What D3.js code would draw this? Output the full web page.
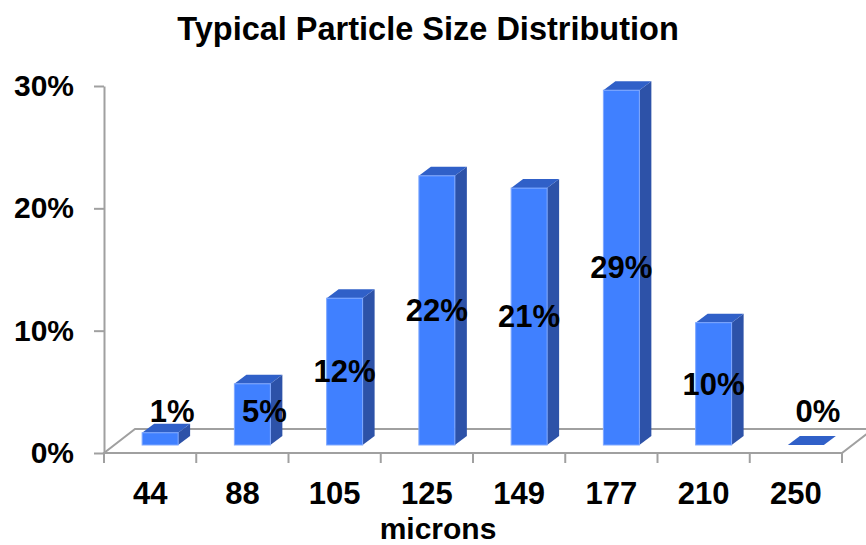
<!DOCTYPE html>
<html>
  <head>
    <style>
      body { margin: 0; background: #fff; }
      svg { display: block; font-family: "Liberation Sans", Arial, sans-serif; }
      .axis path, .axis line { stroke: #a0a0a0; stroke-width: 2; }
      .axis text { font-weight: bold; fill: #000; }
    </style>
    <script src="https://cdn.jsdelivr.net/npm/d3@7"></script>
  </head>
  <body>
    <div id="chart"></div>
    <script>
      // chart data
      var categories = ["44", "88", "105", "125", "149", "177", "210", "250"];
      var values = [1, 5, 12, 22, 21, 29, 10, 0]; // percent
      var yTicks = [0, 10, 20, 30];

      var width = 866, height = 545;

      // fake 3d depth (px)
      var floorDx = 31, floorDy = -24;   // whole floor depth
      var offX = 10, offY = -8;          // bar front face behind front edge
      var barDx = 12, barDy = -9;        // bar thickness

      var svg = d3.select("#chart").append("svg")
        .attr("width", width)
        .attr("height", height);

      var x = d3.scaleBand().domain(categories).range([104, 842]).padding(0);
      var y = d3.scaleLinear().domain([0, 30]).range([453, 86]);
      var bw = x.bandwidth() * 0.39;

      // title
      svg.append("text")
        .attr("x", 428).attr("y", 40)
        .attr("text-anchor", "middle")
        .style("font-size", "32.5px").style("font-weight", "bold")
        .text("Typical Particle Size Distribution");

      // floor
      var x0 = x.range()[0], x1 = x.range()[1], y0 = y(0);
      svg.append("path")
        .attr("d", "M" + x0 + "," + y0 + "L" + x1 + "," + y0 +
          "L" + (x1 + floorDx) + "," + (y0 + floorDy) +
          "L" + (x0 + floorDx) + "," + (y0 + floorDy) + "Z")
        .attr("fill", "none")
        .attr("stroke", "#a0a0a0")
        .attr("stroke-width", 2);

      // y axis
      var yAxis = svg.append("g").attr("class", "axis")
        .attr("transform", "translate(" + x0 + ",0)")
        .call(d3.axisLeft(y).tickValues(yTicks).tickFormat(function(d) { return d + "%"; })
          .tickSize(10).tickSizeOuter(0).tickPadding(20));
      yAxis.selectAll("text").style("font-size", "30px");

      // x axis: labels in the middle of each band, ticks on band edges
      var xAxis = svg.append("g").attr("class", "axis")
        .attr("transform", "translate(0," + y0 + ")")
        .call(d3.axisBottom(x).tickSize(0).tickPadding(29));
      xAxis.select(".domain").remove();
      xAxis.selectAll("text").style("font-size", "31px");
      xAxis.selectAll(".edge")
        .data(categories.concat(["end"]))
        .enter().append("line")
        .attr("class", "edge")
        .attr("x1", function(d, i) { return x0 + i * x.step(); })
        .attr("x2", function(d, i) { return x0 + i * x.step(); })
        .attr("y1", 0).attr("y2", 10);
      xAxis.append("line").attr("x1", x0).attr("x2", x1).attr("y1", 0).attr("y2", 0);

      svg.append("text")
        .attr("x", 438).attr("y", 539)
        .attr("text-anchor", "middle")
        .style("font-size", "30px").style("font-weight", "bold")
        .text("microns");

      // bars
      var bars = svg.selectAll(".bar")
        .data(values.map(function(v, i) { return { cat: categories[i], v: v }; }))
        .enter().append("g").attr("class", "bar");

      function bx(d) { return x(d.cat) + (x.bandwidth() - bw) / 2 + offX; }
      function barTop(d) { return y(d.v) + offY; }
      var base = y(0) + offY;

      bars.append("path") // side
        .attr("fill", "#2d52a8")
        .attr("d", function(d) {
          var r = bx(d) + bw, t = barTop(d);
          return "M" + r + "," + base + "L" + r + "," + t + "L" + (r + barDx) + "," + (t + barDy) +
            "L" + (r + barDx) + "," + (base + barDy) + "Z";
        });
      bars.append("path") // top
        .attr("fill", "#3060c8")
        .attr("d", function(d) {
          var l = bx(d), r = l + bw, t = barTop(d);
          return "M" + l + "," + t + "L" + r + "," + t + "L" + (r + barDx) + "," + (t + barDy) +
            "L" + (l + barDx) + "," + (t + barDy) + "Z";
        });
      bars.filter(function(d) { return d.v > 0; }).append("rect") // front
        .attr("x", bx)
        .attr("y", barTop)
        .attr("width", bw)
        .attr("height", function(d) { return base - barTop(d); })
        .attr("fill", "#4080ff")
        .attr("stroke", "#7fa8ff")
        .attr("stroke-width", 1);

      // data labels
      bars.append("text")
        .attr("text-anchor", "middle")
        .attr("dy", "0.35em")
        .style("font-size", "31px").style("font-weight", "bold")
        .attr("x", function(d) {
          var mid = (barTop(d) + base) / 2;
          return bx(d) + bw / 2 + (mid > base - 34 ? barDx : 0);
        })
        .attr("y", function(d) { return Math.min((barTop(d) + base) / 2, base - 34); })
        .text(function(d) { return d.v + "%"; });
    </script>
  </body>
</html>
